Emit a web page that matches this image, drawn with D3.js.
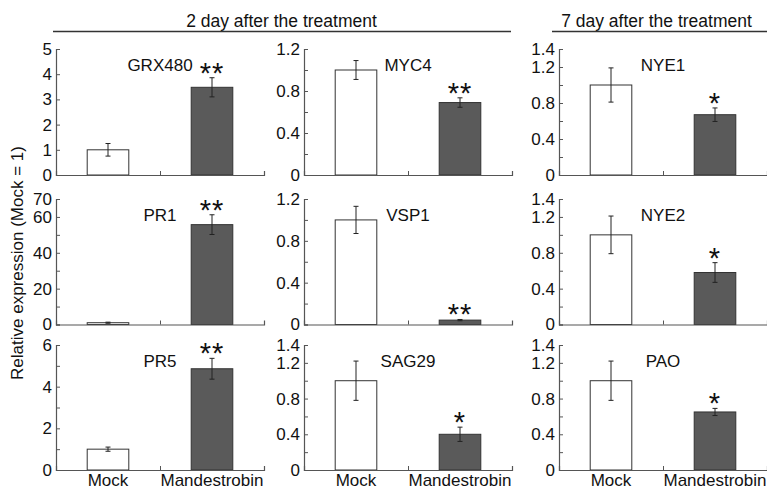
<!DOCTYPE html>
<html>
<head>
<meta charset="utf-8">
<script src="https://cdn.jsdelivr.net/npm/d3@7"></script>
<style>
  body { margin: 0; background: #fff; }
  text { font-family: "Liberation Sans", Arial, sans-serif; fill: #111; }
</style>
</head>
<body>
<div id="chart"></div>
<script>
var width = 767, height = 491;

// data
var genes      = ["GRX480", "MYC4", "NYE1", "PR1", "VSP1", "NYE2", "PR5", "SAG29", "PAO"];
var groups     = ["Mock", "Mandestrobin"];
var mockValues = [1, 1, 1, 1, 1, 1, 1, 1, 1];
var mockErrors = [0.25, 0.09, 0.19, 0.3, 0.13, 0.21, 0.1, 0.22, 0.22];
var mandValues = [3.48, 0.69, 0.67, 55.7, 0.042, 0.58, 4.86, 0.40, 0.65];
var mandErrors = [0.38, 0.045, 0.075, 5.5, 0.006, 0.11, 0.5, 0.08, 0.04];
var stars      = ["**", "**", "*", "**", "**", "*", "**", "*", "*"];
var yMax       = [5, 1.2, 1.4, 70, 1.2, 1.4, 6, 1.4, 1.4];
var yLabelled  = [
  [0, 1, 2, 3, 4, 5],
  [0, 0.4, 0.8, 1.2],
  [0, 0.4, 0.8, 1.2, 1.4],
  [0, 20, 40, 60, 70],
  [0, 0.4, 0.8, 1.2],
  [0, 0.4, 0.8, 1.2, 1.4],
  [0, 2, 4, 6],
  [0, 0.4, 0.8, 1.2, 1.4],
  [0, 0.4, 0.8, 1.2, 1.4]
];
var yMinor     = [
  [],
  [0.2, 0.6, 1.0],
  [0.2, 0.6, 1.0],
  [10, 30, 50],
  [0.2, 0.6, 1.0],
  [0.2, 0.6, 1.0],
  [1, 3, 5],
  [0.2, 0.6, 1.0],
  [0.2, 0.6, 1.0]
];
var titles = ["2 day after the treatment", "7 day after the treatment"];

// layout
var colLeft   = [56, 304, 559],
    colWidth  = 208,
    rowTop    = [49, 199, 345],
    rowBottom = [175, 324.5, 470];

var svg = d3.select("#chart").append("svg")
    .attr("width", width)
    .attr("height", height);

// group titles with rules
var titleInfo = [
  { text: titles[0], cx: 281.5, x1: 53, x2: 511 },
  { text: titles[1], cx: 656.5, x1: 552, x2: 767 }
];
titleInfo.forEach(function(t) {
  svg.append("text")
    .attr("x", t.cx).attr("y", 26.5)
    .attr("text-anchor", "middle")
    .style("font-size", "17.5px")
    .text(t.text);
  svg.append("line")
    .attr("x1", t.x1).attr("x2", t.x2)
    .attr("y1", 31.5).attr("y2", 31.5)
    .attr("stroke", "#333").attr("stroke-width", 1.6);
});

// y axis label
svg.append("text")
  .attr("transform", "translate(23,263) rotate(-90)")
  .attr("text-anchor", "middle")
  .style("font-size", "17px")
  .text("Relative expression (Mock = 1)");

function fmt(v) { return v === 0 ? "0" : String(v); }

genes.forEach(function(gene, i) {
  var row = Math.floor(i / 3), col = i % 3;
  var x0 = colLeft[col], y0 = rowTop[row], y1 = rowBottom[row];

  var x = d3.scaleLinear().domain([0.5, 2.5]).range([x0, x0 + colWidth]);
  var y = d3.scaleLinear().domain([0, yMax[i]]).range([y1, y0]);

  var g = svg.append("g");

  var bars = [
    { v: mockValues[i], e: mockErrors[i], pos: 1, fill: "#fff" },
    { v: mandValues[i], e: mandErrors[i], pos: 2, fill: "#5a5a5a" }
  ];
  var bw = x(1.2) - x(1);

  g.selectAll("rect.bar").data(bars).enter().append("rect")
    .attr("class", "bar")
    .attr("x", function(d) { return x(d.pos) - bw; })
    .attr("y", function(d) { return y(d.v); })
    .attr("width", bw * 2)
    .attr("height", function(d) { return y(0) - y(d.v); })
    .attr("fill", function(d) { return d.fill; })
    .attr("stroke", "#333").attr("stroke-width", 1);

  // error bars
  bars.forEach(function(d) {
    var cx = x(d.pos), top = y(d.v + d.e), bot = y(d.v - d.e);
    g.append("line").attr("x1", cx).attr("x2", cx).attr("y1", top).attr("y2", bot)
      .attr("stroke", "#222").attr("stroke-width", 1);
    [top, bot].forEach(function(yy) {
      g.append("line").attr("x1", cx - 2.5).attr("x2", cx + 2.5).attr("y1", yy).attr("y2", yy)
        .attr("stroke", "#222").attr("stroke-width", 1);
    });
  });

  // axes (ticks pointing inward)
  var yAxis = d3.axisLeft(y)
    .tickValues(yLabelled[i].concat(yMinor[i]))
    .tickSize(-4)
    .tickPadding(4)
    .tickFormat(function(v) { return yLabelled[i].indexOf(v) >= 0 ? fmt(v) : ""; });
  var ay = g.append("g").attr("transform", "translate(" + x0 + ",0)").call(yAxis);
  ay.select(".domain").attr("stroke", "#555").attr("stroke-width", 1.2);
  ay.selectAll(".tick line").attr("stroke", "#555");
  ay.selectAll("text").style("font-size", "17px").style("font-family", "Liberation Sans, Arial, sans-serif").attr("fill", "#111");

  var xAxis = d3.axisBottom(x).tickValues([1.5]).tickSize(-4).tickFormat("");
  var ax = g.append("g").attr("transform", "translate(0," + y1 + ")").call(xAxis);
  ax.select(".domain").attr("stroke", "#555").attr("stroke-width", 1.2);
  ax.selectAll(".tick line").attr("stroke", "#555");

  // gene name
  g.append("text")
    .attr("x", x(1.5)).attr("y", y0 + 22)
    .attr("text-anchor", "middle")
    .style("font-size", "17px")
    .text(gene);

  // significance stars
  g.append("text")
    .attr("x", x(2)).attr("y", y(mandValues[i] + mandErrors[i]) + 5)
    .attr("text-anchor", "middle")
    .style("font-size", "29px")
    .style("letter-spacing", "1px")
    .text(stars[i]);

  // group labels on bottom row
  if (row === 2) {
    groups.forEach(function(name, k) {
      g.append("text")
        .attr("x", x(k + 1)).attr("y", 486)
        .attr("text-anchor", "middle")
        .style("font-size", "17px")
        .text(name);
    });
  }
});
</script>
</body>
</html>
